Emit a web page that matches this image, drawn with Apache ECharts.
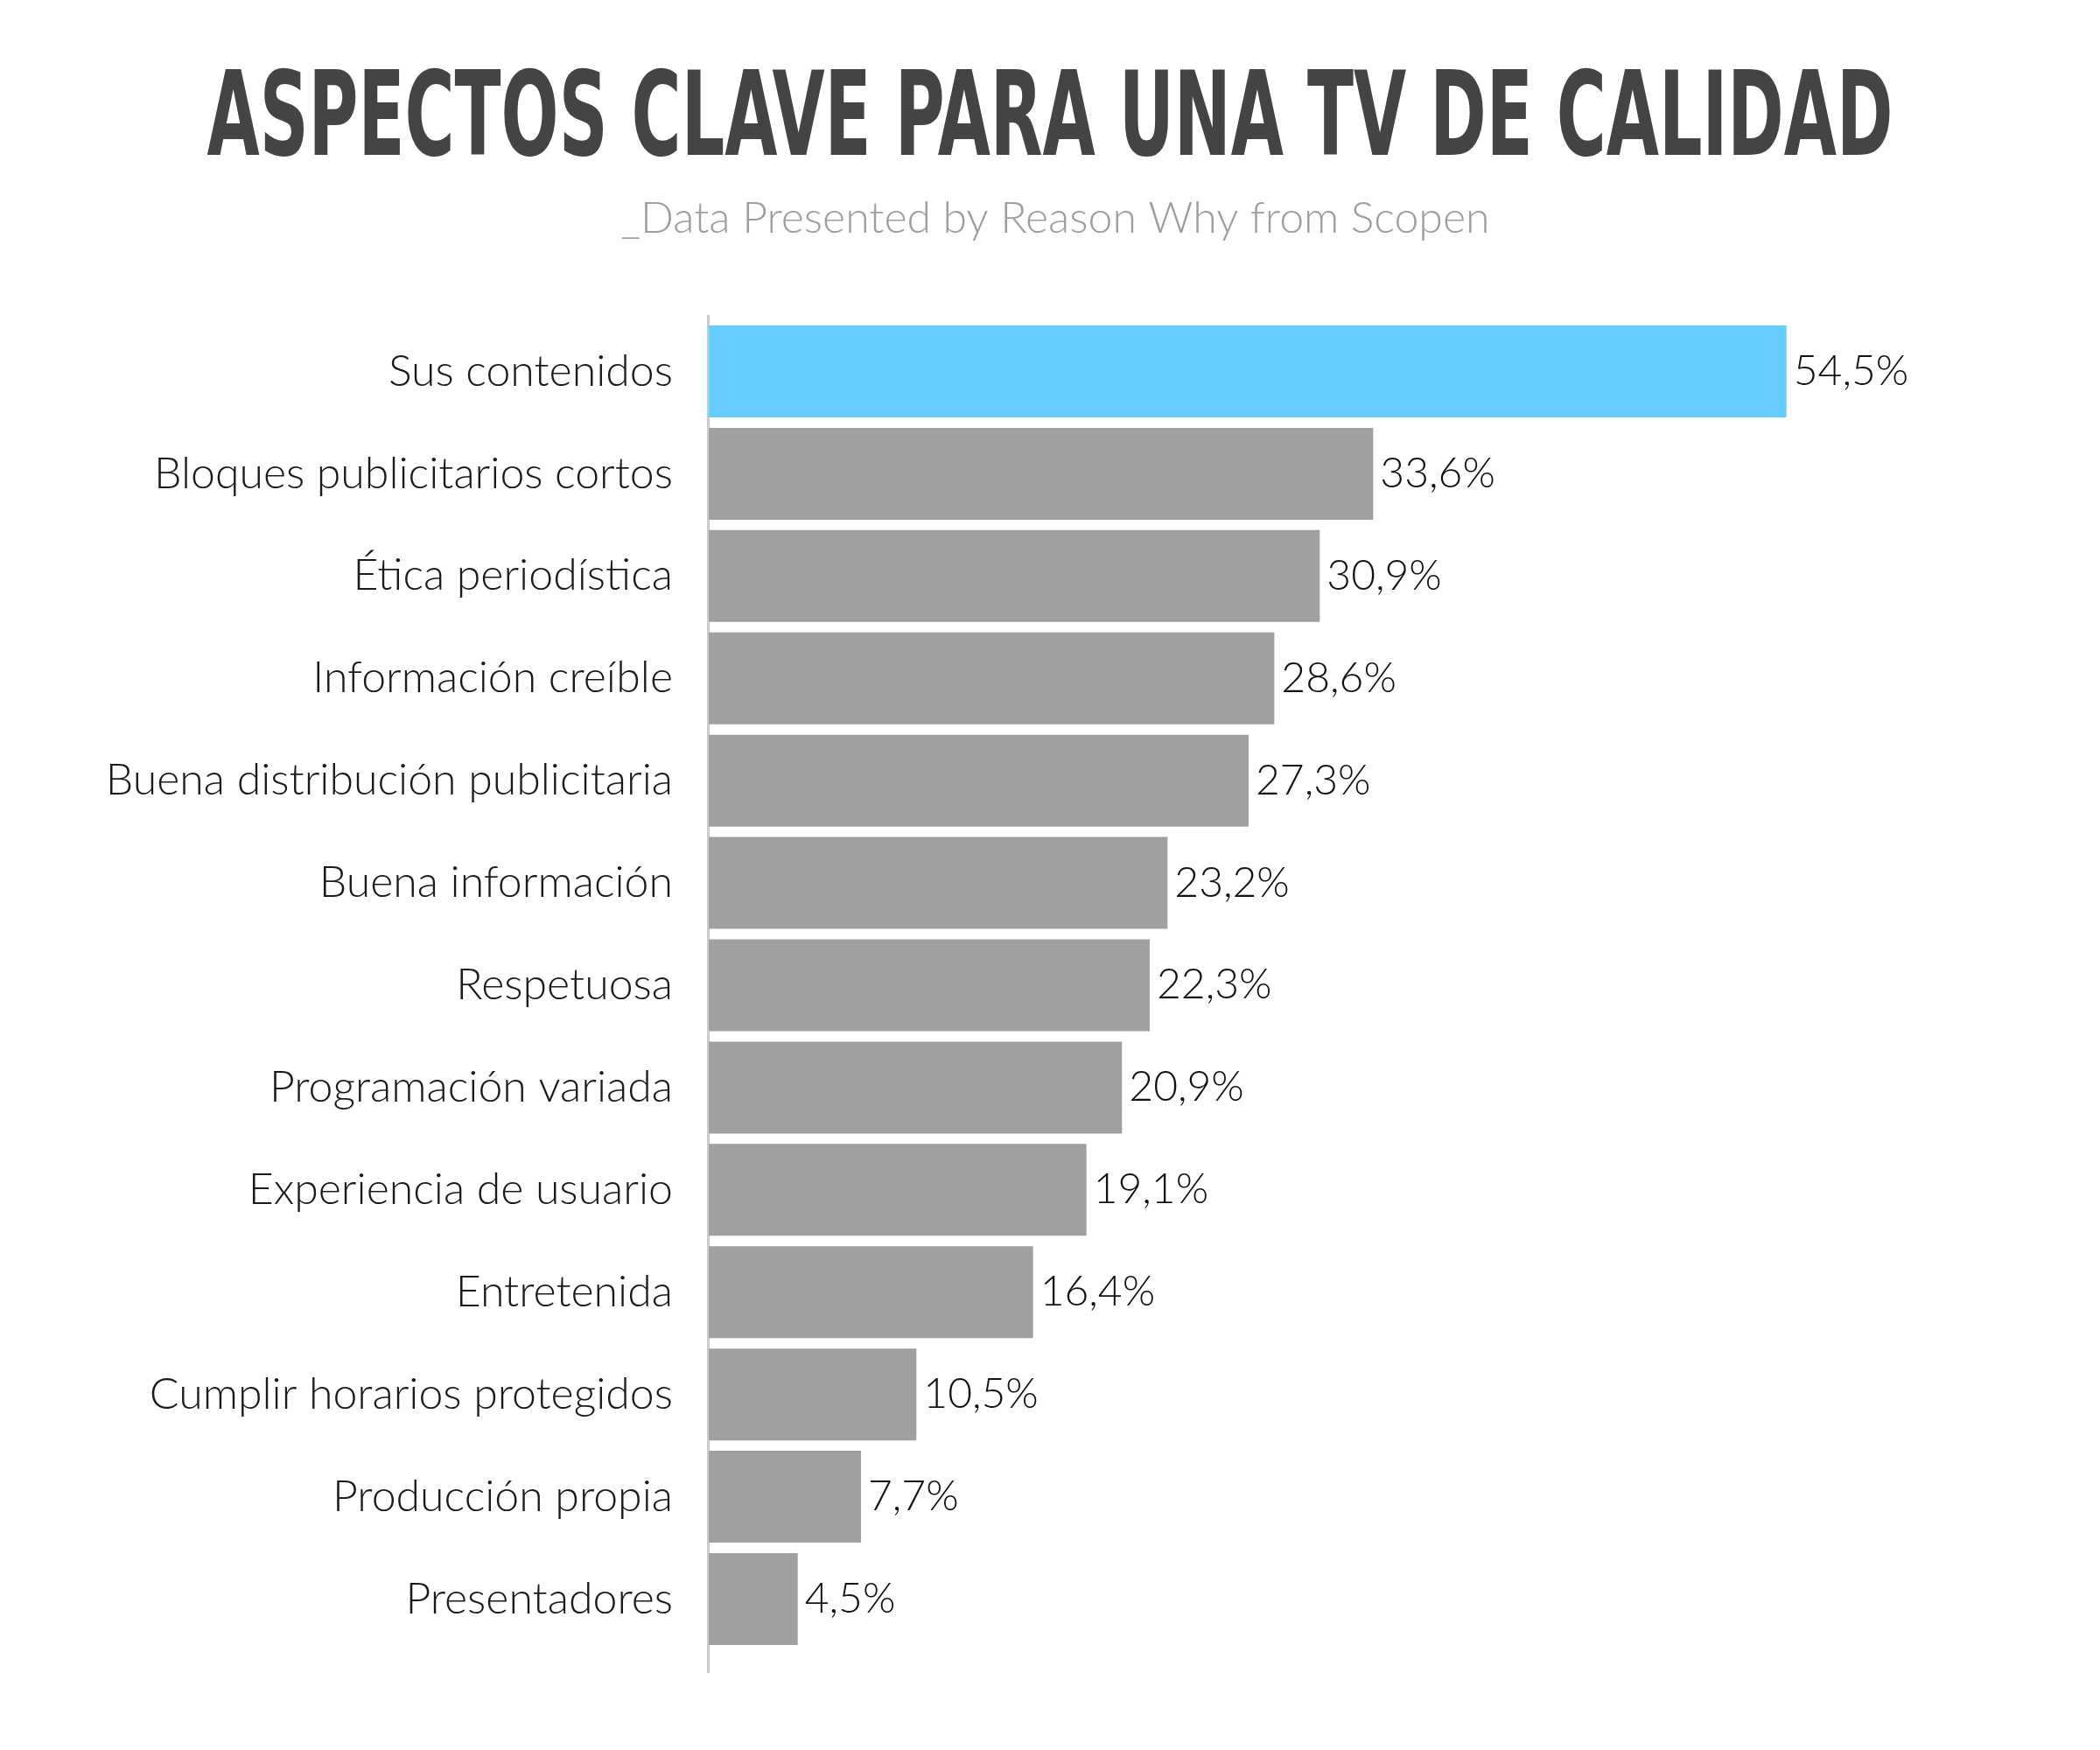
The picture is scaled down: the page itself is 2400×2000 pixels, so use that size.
<!DOCTYPE html>
<html><head><meta charset="utf-8">
<script src="https://cdn.jsdelivr.net/npm/echarts@6/dist/echarts.min.js"></script>
<style>html,body{margin:0;padding:0;background:#fff}#c{width:2400px;height:2000px}</style>
</head><body><div id="c"></div>
<script>
const titleText = 'ASPECTOS CLAVE PARA UNA TV DE CALIDAD';
const subtitleText = '_Data Presented by Reason Why from Scopen';
const categories = [
  'Sus contenidos',
  'Bloques publicitarios cortos',
  'Ética periodística',
  'Información creíble',
  'Buena distribución publicitaria',
  'Buena información',
  'Respetuosa',
  'Programación variada',
  'Experiencia de usuario',
  'Entretenida',
  'Cumplir horarios protegidos',
  'Producción propia',
  'Presentadores'
];
const values = [54.5, 33.6, 30.9, 28.6, 27.3, 23.2, 22.3, 20.9, 19.1, 16.4, 10.5, 7.7, 4.5];
const valueLabels = ['54,5%','33,6%','30,9%','28,6%','27,3%','23,2%','22,3%','20,9%','19,1%','16,4%','10,5%','7,7%','4,5%'];
const highlightIndex = 0;

const titleFont = "bold 133px 'Liberation Sans Narrow', 'DejaVu Sans Condensed', sans-serif";
const cv = document.createElement('canvas').getContext('2d');
cv.font = titleFont;
const titleW = cv.measureText(titleText).width;
const titleScale = 1927 / titleW;

const chart = echarts.init(document.getElementById('c'), null, {renderer: 'canvas'});
chart.setOption({
  backgroundColor: '#ffffff',
  animation: false,
  graphic: [
    {
      type: 'text', x: 1200, y: 142, scaleX: titleScale, scaleY: 1,
      style: {text: titleText, font: titleFont, fill: '#444444', textAlign: 'center', textVerticalAlign: 'middle'}
    },
    {
      type: 'text', x: 1206, y: 250,
      style: {text: subtitleText, font: "300 50px Lato, 'Open Sans', sans-serif", fill: '#9e9e9e', textAlign: 'center', textVerticalAlign: 'middle'}
    },
    {
      type: 'line', z: 0,
      shape: {x1: 809.5, y1: 360, x2: 809.5, y2: 1912},
      style: {stroke: '#cccccc', lineWidth: 3}
    }
  ],
  grid: {left: 810, width: 1356, top: 366, height: 1520, containLabel: false},
  xAxis: {type: 'value', min: 0, max: 60, show: false, splitLine: {show: false}},
  yAxis: {
    type: 'category', inverse: true, data: categories,
    axisLine: {show: false}, axisTick: {show: false}, splitLine: {show: false},
    axisLabel: {fontFamily: 'Lato', fontWeight: 300, fontSize: 50, color: '#1a1a1a', margin: 41}
  },
  series: [{
    type: 'bar', z: 2,
    barWidth: 105,
    data: values.map((v, i) => ({value: v, itemStyle: {color: i === highlightIndex ? '#66CEFF' : '#A0A0A0'}})),
    label: {
      show: true, position: 'right', distance: 8,
      fontFamily: 'Lato', fontWeight: 300, fontSize: 48, color: '#111111',
      formatter: p => valueLabels[p.dataIndex]
    }
  }]
});
</script>
</body></html>
